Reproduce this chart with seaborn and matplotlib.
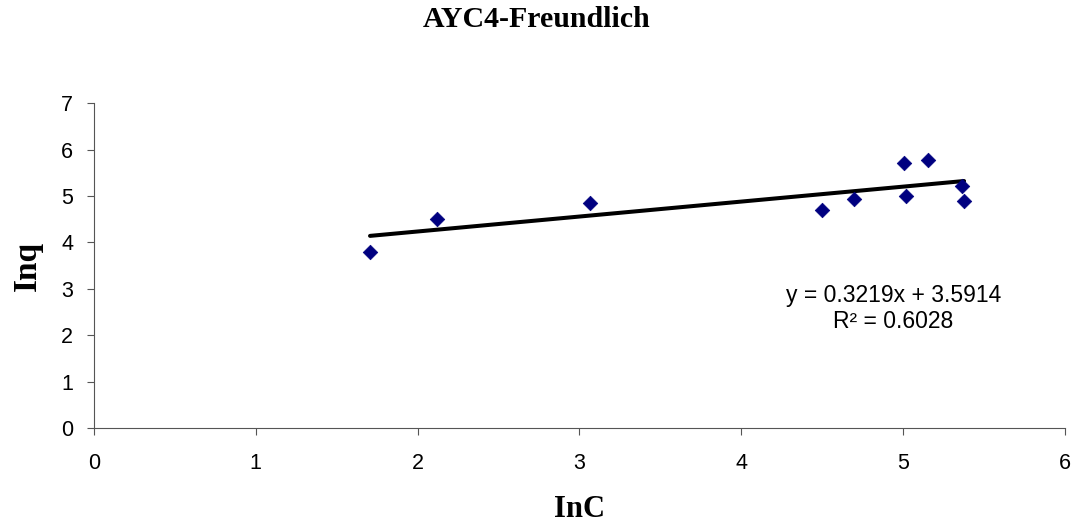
import numpy as np
import pandas as pd
import matplotlib
matplotlib.use("Agg")
import matplotlib.pyplot as plt
import seaborn as sns

# Data
lnC = [1.706, 2.12, 3.067, 4.497, 4.697, 5.008, 5.153, 5.019, 5.365, 5.377]
lnq = [3.797, 4.51, 4.84, 4.695, 4.925, 5.70, 5.77, 4.997, 5.21, 4.89]
slope = 0.3219
intercept = 3.5914
r2 = 0.6028
title = "AYC4-Freundlich"
x_ticks = [0, 1, 2, 3, 4, 5, 6]
y_ticks = [0, 1, 2, 3, 4, 5, 6, 7]

sns.set_style("white")
plt.rcParams['font.family'] = ['Liberation Sans', 'DejaVu Sans']
plt.rcParams['text.color'] = 'black'
plt.rcParams['axes.labelcolor'] = 'black'
plt.rcParams['xtick.color'] = 'black'
plt.rcParams['ytick.color'] = 'black'

fig = plt.figure(figsize=(10.8, 5.26), dpi=100)
ax = fig.add_axes([0.087, 0.186, 0.899, 0.618])

df = pd.DataFrame({"lnC": lnC, "lnq": lnq})
xs = np.array([min(lnC), max(lnC)])
line_df = pd.DataFrame({"x": xs, "y": slope * xs + intercept})
sns.lineplot(data=line_df, x="x", y="y", color="black", linewidth=2.9, ax=ax, zorder=2)
sns.scatterplot(data=df, x="lnC", y="lnq", marker="D", s=55, color="#000080",
                edgecolor="#000080", linewidth=0.5, ax=ax, zorder=3)

ax.set_xlim(0, 6)
ax.set_ylim(0, 7)
ax.set_xticks(x_ticks)
ax.set_yticks(y_ticks)
ax.tick_params(axis="both", which="major", labelsize=15.5, length=5, width=0.8,
               direction="out", color="#555555", left=True, bottom=True, pad=13)
ax.tick_params(axis="y", pad=10)
for side in ["top", "right"]:
    ax.spines[side].set_visible(False)
for side in ["left", "bottom"]:
    ax.spines[side].set_color("#555555")
    ax.spines[side].set_linewidth(0.8)

ax.set_xlabel("InC", fontfamily="Liberation Serif", fontweight="bold", fontsize=22, labelpad=15)
ax.set_ylabel("Inq", fontfamily="Liberation Serif", fontweight="bold", fontsize=24, labelpad=13)
fig.text(0.497, 0.962, title, fontfamily="Liberation Serif", fontweight="bold",
         fontsize=21.5, ha="center", va="center")

ax.text(4.94, 2.58, f"y = {slope}x + {intercept}\nR² = {r2}", ha="center", va="center",
        fontsize=16.5, linespacing=1.2)

fig.savefig("out.png", dpi=100)
